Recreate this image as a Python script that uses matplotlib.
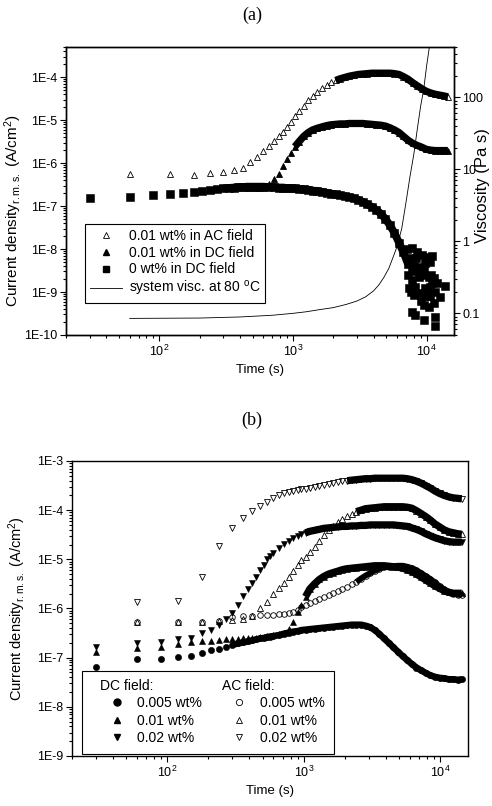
import numpy as np
import matplotlib
matplotlib.use("Agg")
import matplotlib.pyplot as plt
from matplotlib.ticker import LogLocator, NullFormatter, FuncFormatter, FixedLocator
from matplotlib.lines import Line2D
from matplotlib.patches import Rectangle

plt.rcParams['font.family'] = ['Liberation Sans', 'DejaVu Sans']
plt.rcParams['mathtext.fontset'] = 'custom'
plt.rcParams['mathtext.rm'] = 'Liberation Sans'
plt.rcParams['mathtext.it'] = 'Liberation Sans:italic'
plt.rcParams['mathtext.bf'] = 'Liberation Sans:bold'

# ---------------- data (time in s, current density stored as log10(A/cm^2)) ----------------
T_EARLY_30 = [30, 60, 90, 120, 150, 180, 210, 240, 270, 300, 330, 360, 390, 420, 450,
              480, 510, 540, 570, 600, 660, 720, 780, 840, 900, 960]
T_EARLY_60 = [60, 120, 180, 240, 300, 360, 420, 480, 540, 600, 660, 720, 780, 840, 900, 960]
T_LATE = [1030, 1110, 1200, 1300, 1400, 1520, 1640, 1780, 1920, 2080, 2250, 2430, 2630, 2840,
          3070, 3320, 3590, 3880, 4200, 4540, 4910, 5310, 5740, 6200, 6700, 7250, 7840, 8470,
          9160, 9900, 10700, 11570, 12500, 13500, 14400]

# panel (a)
a_sq_early = [-6.82, -6.78, -6.74, -6.72, -6.69, -6.67, -6.64, -6.63, -6.60, -6.59, -6.58, -6.57, -6.56,
              -6.56, -6.55, -6.55, -6.55, -6.55, -6.55, -6.55, -6.56, -6.56, -6.57, -6.57, -6.58, -6.58]
a_sq_late = [-6.59, -6.60, -6.61, -6.62, -6.64, -6.65, -6.67, -6.69, -6.71, -6.73, -6.75, -6.77, -6.79,
             -6.82, -6.86, -6.90, -6.96, -7.02, -7.09, -7.18, -7.30, -7.45, -7.63, -7.85, -8.08, -8.35]
a_sq_scatter_t = [7100, 7300, 7400, 7500, 7600, 7700, 7770, 7770, 7770, 7990, 8000, 8220, 8220, 8300,
                  8470, 8600, 8710, 8980, 8980, 9000, 9230, 9500, 9500, 9500, 9600, 9770, 9770, 9800,
                  10050, 10100, 10350, 10350, 10500, 10640, 10640, 10800, 10960, 11000, 11280, 11280,
                  11600, 11600, 11600, 11940, 12650, 13800]
a_sq_scatter = [-8.00, -8.60, -8.90, -8.20, -9.00, -8.50, -7.98, -8.72, -9.46, -9.07, -8.40, -8.88, -9.53,
                -8.20, -8.06, -8.50, -8.64, -8.41, -9.03, -9.20, -8.14, -8.60, -9.30, -9.65, -8.45, -8.33,
                -8.91, -9.10, -8.18, -9.00, -8.64, -9.34, -9.10, -8.30, -8.88, -8.60, -8.16, -8.80, -8.68,
                -9.26, -8.99, -9.57, -9.78, -8.80, -9.11, -8.86]
a_dc_early = [-6.82, -6.78, -6.74, -6.72, -6.69, -6.67, -6.64, -6.63, -6.60, -6.59, -6.58, -6.57, -6.56,
              -6.56, -6.55, -6.55, -6.55, -6.55, -6.54, -6.53, -6.48, -6.36, -6.26, -6.08, -5.90, -5.76]
a_dc_late = [-5.62, -5.50, -5.38, -5.29, -5.23, -5.19, -5.16, -5.13, -5.11, -5.10, -5.09, -5.09, -5.08,
             -5.08, -5.08, -5.08, -5.09, -5.10, -5.11, -5.12, -5.14, -5.18, -5.23, -5.29, -5.38, -5.47,
             -5.54, -5.59, -5.63, -5.68, -5.70, -5.71, -5.71, -5.71, -5.71]
a_ac_early = [-6.26, -6.26, -6.27, -6.24, -6.21, -6.16, -6.12, -5.98, -5.86, -5.73, -5.60, -5.48, -5.37,
              -5.27, -5.16, -5.04]
a_ac_late = [-4.91, -4.78, -4.67, -4.53, -4.44, -4.35, -4.25, -4.18, -4.12, -4.08, -4.04, -4.01, -3.98,
             -3.96, -3.94, -3.93, -3.92, -3.91, -3.91, -3.91, -3.91, -3.91, -3.92, -3.94, -3.99, -4.05,
             -4.13, -4.20, -4.27, -4.33, -4.37, -4.40, -4.42, -4.44, -4.46]
visc_t = [60, 200, 400, 700, 1000, 1250, 1600, 2000, 2500, 3000, 3500, 4000, 4400, 4800, 5200, 5600,
          6000, 6500, 7000, 7500, 8000, 8500, 9000, 9500, 10000, 10500, 10800]
visc_pas = [0.085, 0.086, 0.089, 0.094, 0.100, 0.105, 0.113, 0.120, 0.133, 0.148, 0.17, 0.205, 0.25,
            0.32, 0.42, 0.60, 0.85, 1.5, 3.5, 8.0, 16, 36, 75, 130, 280, 520, 700]

# panel (b)
b_dc005_early = [-7.18, -7.02, -7.03, -6.98, -6.96, -6.91, -6.84, -6.82, -6.78, -6.74, -6.71, -6.69, -6.67,
                 -6.65, -6.63, -6.61, -6.60, -6.58, -6.57, -6.56, -6.54, -6.51, -6.49, -6.47, -6.46, -6.44]
b_dc005_late = [-6.43, -6.42, -6.41, -6.40, -6.39, -6.38, -6.37, -6.36, -6.35, -6.34, -6.33, -6.33, -6.33,
                -6.35, -6.38, -6.44, -6.52, -6.61, -6.70, -6.79, -6.88, -6.97, -7.05, -7.13, -7.20, -7.26,
                -7.31, -7.36, -7.39, -7.41, -7.42, -7.44, -7.44, -7.45, -7.44]
b_dc01_early = [-6.88, -6.81, -6.78, -6.72, -6.69, -6.67, -6.66, -6.64, -6.63, -6.62, -6.62, -6.61, -6.60,
                -6.60, -6.59, -6.58, -6.57, -6.56, -6.55, -6.54, -6.52, -6.49, -6.42, -6.28, -6.08, -5.92]
b_dc01_late = [-5.76, -5.60, -5.50, -5.41, -5.35, -5.30, -5.27, -5.24, -5.21, -5.19, -5.18, -5.17, -5.16,
               -5.15, -5.14, -5.13, -5.13, -5.13, -5.14, -5.15, -5.16, -5.18, -5.21, -5.25, -5.30, -5.36,
               -5.42, -5.48, -5.54, -5.59, -5.64, -5.67, -5.69, -5.69, -5.69]
b_dc02_early = [-6.79, -6.71, -6.69, -6.62, -6.59, -6.50, -6.44, -6.33, -6.22, -6.09, -5.92, -5.74, -5.61,
                -5.48, -5.35, -5.22, -5.11, -5.00, -4.93, -4.87, -4.77, -4.68, -4.62, -4.57, -4.53, -4.49]
b_dc02_late = [-4.46, -4.43, -4.41, -4.39, -4.37, -4.36, -4.35, -4.34, -4.33, -4.33, -4.32, -4.32, -4.31,
               -4.31, -4.30, -4.30, -4.30, -4.30, -4.30, -4.30, -4.31, -4.32, -4.33, -4.36, -4.39, -4.43,
               -4.48, -4.52, -4.56, -4.59, -4.62, -4.64, -4.65, -4.65, -4.65]
b_ac005_early = [-6.27, -6.27, -6.27, -6.25, -6.17, -6.16, -6.15, -6.14, -6.13, -6.13, -6.12, -6.11, -6.10,
                 -6.08, -6.03, -5.97]
b_ac005_late = [-5.92, -5.88, -5.85, -5.80, -5.76, -5.72, -5.68, -5.64, -5.60, -5.56, -5.51, -5.46, -5.39,
                -5.33, -5.28, -5.23, -5.19, -5.16, -5.15, -5.14, -5.13, -5.13, -5.15, -5.18, -5.22, -5.28,
                -5.34, -5.40, -5.47, -5.55, -5.61, -5.66, -5.70, -5.72, -5.73]
b_ac01_early = [-6.27, -6.27, -6.27, -6.25, -6.23, -6.21, -6.15, -6.00, -5.87, -5.71, -5.58, -5.48, -5.36,
                -5.24, -5.12, -5.02]
b_ac01_late = [-4.95, -4.85, -4.74, -4.62, -4.51, -4.41, -4.32, -4.25, -4.18, -4.12, -4.07, -4.03, -4.00,
               -3.97, -3.96, -3.95, -3.94, -3.93, -3.93, -3.93, -3.93, -3.93, -3.94, -3.96, -4.01, -4.07,
               -4.13, -4.20, -4.28, -4.34, -4.40, -4.44, -4.46, -4.48, -4.49]
b_ac02_early = [-5.87, -5.85, -5.35, -4.73, -4.37, -4.15, -4.02, -3.91, -3.83, -3.76, -3.70, -3.66, -3.63,
                -3.61, -3.59, -3.57]
b_ac02_late = [-3.56, -3.54, -3.52, -3.50, -3.48, -3.46, -3.44, -3.42, -3.41, -3.40, -3.39, -3.38, -3.37,
               -3.36, -3.36, -3.35, -3.35, -3.35, -3.35, -3.35, -3.35, -3.35, -3.36, -3.38, -3.41, -3.45,
               -3.50, -3.55, -3.61, -3.66, -3.70, -3.73, -3.75, -3.76, -3.77]


def series(t_early, early, late):
    t = list(t_early) + T_LATE[:len(late)]
    v = list(early) + list(late)
    return np.array(t, float), 10.0 ** np.array(v, float)


def plot_series(ax, t, v, marker, ms, filled, band_from, band_to=1e9, band_lw=None, mew=0.6):
    # dense part of the record: the measured points overlap into a continuous band
    sel = (t >= band_from) & (t <= band_to)
    if sel.sum() > 1:
        ax.plot(t[sel], v[sel], color='k', lw=band_lw if band_lw else ms * 1.05,
                solid_capstyle='butt', solid_joinstyle='round', zorder=2)
    ax.plot(t, v, ls='none', marker=marker, ms=ms, mfc='k' if filled else 'none', mec='k',
            mew=mew, zorder=3)


def style_axes(ax, decades):
    ax.set_xscale('log')
    ax.set_yscale('log')
    ax.set_xlim(20, 16000)
    ax.xaxis.set_major_locator(FixedLocator([1e2, 1e3, 1e4]))
    ax.xaxis.set_minor_locator(LogLocator(base=10, subs=np.arange(2, 10), numticks=50))
    ax.xaxis.set_minor_formatter(NullFormatter())
    ax.yaxis.set_major_locator(FixedLocator([10.0 ** d for d in decades]))
    ax.yaxis.set_minor_locator(LogLocator(base=10, subs=np.arange(2, 10), numticks=100))
    ax.yaxis.set_minor_formatter(NullFormatter())
    ax.yaxis.set_major_formatter(FuncFormatter(lambda v, p: "1E%d" % int(round(np.log10(v)))))
    ax.tick_params(which='both', direction='out', top=False, right=False, labelsize=9, width=0.8, pad=2)
    ax.tick_params(which='major', length=4)
    ax.tick_params(which='minor', length=2)
    for s in ax.spines.values():
        s.set_linewidth(1.0)


fig = plt.figure(figsize=(4.92, 8.06), dpi=100)
W, H = 492.0, 806.0

# ---------------- panel (a) ----------------
ax1 = fig.add_axes([66 / W, 1 - 335 / H, 388 / W, 288 / H])
style_axes(ax1, range(-10, -3))
ax1.set_ylim(1e-10, 5e-4)

t, v = series(T_EARLY_60, a_ac_early, a_ac_late)
plot_series(ax1, t, v, '^', 5, False, 2000)
t, v = series(T_EARLY_30, a_dc_early, a_dc_late)
plot_series(ax1, t, v, '^', 5, True, 1030)
t, v = series(T_EARLY_30, a_sq_early, a_sq_late)
plot_series(ax1, t, v, 's', 5.2, True, 300, band_lw=5.6, mew=0.4)
ax1.plot(a_sq_scatter_t, 10.0 ** np.array(a_sq_scatter), ls='none', marker='s', ms=5.2,
         mfc='k', mec='k', mew=0.4, zorder=3)

ax1.set_xlabel("Time (s)", fontsize=9.5, labelpad=4)
ax1.set_ylabel("Current density$_{\\mathrm{r.m.s.}}$ (A/cm$^2$)", fontsize=11)
ax1.yaxis.set_label_coords(-0.108, 0.43)

axr = ax1.twinx()
axr.set_xscale('log')
axr.set_xlim(20, 16000)
axr.set_yscale('log')
axr.set_ylim(0.05, 500)
axr.plot(visc_t, visc_pas, color='k', lw=0.6)
axr.yaxis.set_major_locator(FixedLocator([0.1, 1, 10, 100]))
axr.yaxis.set_minor_locator(LogLocator(base=10, subs=np.arange(2, 10), numticks=100))
axr.yaxis.set_minor_formatter(NullFormatter())
axr.yaxis.set_major_formatter(FuncFormatter(lambda v, p: "%g" % v))
axr.tick_params(which='both', direction='out', labelsize=9, width=0.8, pad=2)
axr.tick_params(which='major', length=4)
axr.tick_params(which='minor', length=2)
axr.set_ylabel("Viscosity (Pa s)", fontsize=12)
axr.yaxis.set_label_coords(1.054, 0.52)
for s in axr.spines.values():
    s.set_linewidth(1.0)

handles_a = [
    Line2D([], [], ls='none', marker='^', ms=5, mfc='none', mec='k', mew=0.6),
    Line2D([], [], ls='none', marker='^', ms=5, mfc='k', mec='k'),
    Line2D([], [], ls='none', marker='s', ms=5, mfc='k', mec='k'),
    Line2D([], [], color='k', lw=0.6),
]
labels_a = ["0.01 wt% in AC field", "0.01 wt% in DC field", "0 wt% in DC field",
            "system visc. at 80 $^{\\mathrm{o}}$C"]
leg = axr.legend(handles_a, labels_a, loc='lower left', bbox_to_anchor=(0.049, 0.111),
                 fontsize=10, frameon=True, fancybox=False, edgecolor='k', framealpha=1,
                 borderpad=0.35, labelspacing=0.2, handlelength=2.3, handletextpad=0.5,
                 borderaxespad=0)
leg.get_frame().set_linewidth(0.8)

fig.text(252 / W, 1 - 15 / H, "(a)", family=['Liberation Serif'], fontsize=13, ha='center', va='center')

# ---------------- panel (b) ----------------
ax2 = fig.add_axes([72 / W, 1 - 756 / H, 396 / W, 295 / H])
style_axes(ax2, range(-9, -2))
ax2.set_ylim(1e-9, 1e-3)

t, v = series(T_EARLY_30, b_dc005_early, b_dc005_late)
plot_series(ax2, t, v, 'o', 4.5, True, 300, mew=0.4)
t, v = series(T_EARLY_30, b_dc01_early, b_dc01_late)
plot_series(ax2, t, v, '^', 5, True, 1030, mew=0.4)
t, v = series(T_EARLY_30, b_dc02_early, b_dc02_late)
plot_series(ax2, t, v, 'v', 5, True, 1030, mew=0.4)
t, v = series(T_EARLY_60, b_ac005_early, b_ac005_late)
plot_series(ax2, t, v, 'o', 4, False, 2400)
t, v = series(T_EARLY_60, b_ac01_early, b_ac01_late)
plot_series(ax2, t, v, '^', 5, False, 2400)
t, v = series(T_EARLY_60, b_ac02_early, b_ac02_late)
plot_series(ax2, t, v, 'v', 5, False, 2000)

ax2.set_xlabel("Time (s)", fontsize=9.5, labelpad=4)
ax2.set_ylabel("Current density$_{\\mathrm{r.m.s.}}$ (A/cm$^2$)", fontsize=10.5)
ax2.yaxis.set_label_coords(-0.111, 0.5)

box = Rectangle((0.025, 0.007), 0.637, 0.281, transform=ax2.transAxes, facecolor='white',
                edgecolor='k', lw=0.8, zorder=4)
ax2.add_patch(box)

dc_labels = ["0.005 wt%", "0.01 wt%", "0.02 wt%"]
dc_handles = [Line2D([], [], ls='none', marker=m, ms=5, mfc='k', mec='k') for m in ('o', '^', 'v')]
ac_handles = [Line2D([], [], ls='none', marker=m, ms=4.5, mfc='none', mec='k', mew=0.6)
              for m in ('o', '^', 'v')]
leg_kw = dict(loc='upper left', frameon=False, fontsize=10, title_fontsize=10, alignment='left',
              handlelength=2.4, handletextpad=0.3, labelspacing=0.25, borderpad=0, borderaxespad=0)
leg_dc = ax2.legend(dc_handles, dc_labels, title="DC field:", bbox_to_anchor=(0.0707, 0.262), **leg_kw)
leg_dc.set_zorder(5)
ax2.add_artist(leg_dc)
leg_ac = ax2.legend(ac_handles, dc_labels, title="AC field:", bbox_to_anchor=(0.379, 0.262), **leg_kw)
leg_ac.set_zorder(5)

fig.text(252 / W, 1 - 420 / H, "(b)", family=['Liberation Serif'], fontsize=13, ha='center', va='center')

fig.savefig("out.png", dpi=100)
